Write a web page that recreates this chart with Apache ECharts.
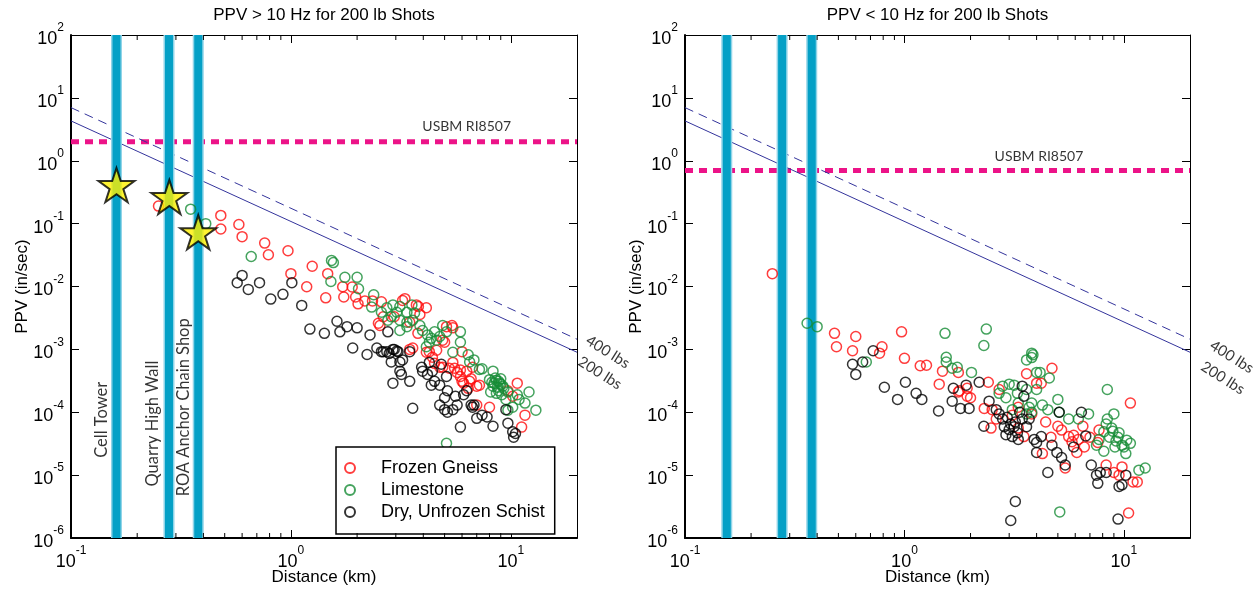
<!DOCTYPE html>
<html><head><meta charset="utf-8">
<script src="https://cdn.jsdelivr.net/npm/echarts@6/dist/echarts.min.js"></script>
<style>html,body{margin:0;padding:0;background:#fff}#c{width:1260px;height:590px}</style>
</head><body><div id="c"></div>
<script>
// ---------- data ----------
const X_MIN = 0.1, X_MAX = 20, Y_MIN = 1e-6, Y_MAX = 100;
const panelTitles = ['PPV > 10 Hz for 200 lb Shots', 'PPV < 10 Hz for 200 lb Shots'];
const xName = 'Distance (km)';
const yName = 'PPV (in/sec)';
const seriesNames = ['Frozen Gneiss', 'Limestone', 'Dry, Unfrozen Schist'];
const minorTickValues = [0.2,0.3,0.4,0.5,0.6,0.7,0.8,0.9,2,3,4,5,6,7,8,9];

const gneissLeft = [[0.25,0.19],[0.48,0.135],[0.48,0.082],[0.58,0.097],[0.6,0.062],[0.76,0.049],[0.79,0.032],[0.97,0.037],[1.25,0.021],[1.0,0.016],[1.18,0.0099],[1.44,0.0066],[1.47,0.016],[1.72,0.0099],[1.9,0.0098],[1.74,0.0068],[1.97,0.0068],[2.17,0.0059],[2.35,0.0059],[2.58,0.0057],[2.02,0.0053],[2.54,0.0024],[2.63,0.0033],[2.5,0.0026],[2.95,0.0033],[3.22,0.006],[3.3,0.0064],[3.8,0.0048],[3.72,0.0051],[3.86,0.0036],[4.13,0.0046],[3.47,0.0027],[3.78,0.0018],[3.58,0.00105],[4.13,0.0009],[5.1,0.0023],[5.45,0.0022],[4.9,0.0014],[4.6,0.00097],[5.0,0.0013],[5.4,0.0024],[3.47,0.001],[4.26,0.00092],[4.4,0.00075],[4.75,0.00052],[5.25,0.0005],[5.7,0.00043],[5.45,0.00062],[6.0,0.00092],[5.9,0.00037],[6.3,0.00045],[6.5,0.00031],[6.1,0.00029],[6.7,0.00052],[7.0,0.00026],[7.0,0.00013],[4.9,0.00052],[5.55,0.0005],[5.9,0.00047],[6.0,0.00031],[6.6,0.00034],[7.2,0.00027],[6.4,0.00024],[10.7,0.00029],[9.7,0.00022],[10.2,0.00018],[8.0,0.00012],[11.6,0.00009],[11.2,0.000058],[4.5,0.0006]];
const limestoneLeft = [[0.35,0.17],[0.41,0.1],[0.66,0.03],[1.53,0.026],[1.56,0.024],[1.52,0.012],[1.76,0.014],[2.0,0.014],[2.03,0.0092],[2.38,0.0074],[2.33,0.0047],[2.58,0.0039],[2.73,0.0046],[2.91,0.0051],[3.03,0.0039],[3.13,0.0048],[2.86,0.0033],[2.76,0.0029],[3.13,0.0029],[3.37,0.0039],[3.55,0.0051],[3.65,0.0038],[3.37,0.0027],[3.13,0.002],[3.37,0.0023],[3.58,0.0029],[3.86,0.0024],[3.97,0.002],[4.18,0.0017],[4.35,0.0015],[4.5,0.0019],[4.6,0.0014],[4.26,0.0013],[4.13,0.0011],[4.75,0.0016],[4.9,0.0024],[5.1,0.0019],[5.9,0.0019],[5.9,0.0013],[5.45,0.0009],[6.4,0.00082],[6.8,0.00068],[6.5,0.00063],[7.4,0.00049],[8.3,0.00045],[8.0,0.00033],[8.5,0.00035],[8.9,0.00029],[8.3,0.00026],[8.7,0.00025],[9.2,0.00026],[8.6,0.0002],[9.1,0.00019],[9.7,0.00021],[8.1,0.00021],[9.5,0.00016],[12.1,0.00021],[10.7,0.00019],[13.0,0.000108],[11.6,0.00014],[10.2,0.00012],[9.7,0.000108],[10.9,0.00016],[5.1,0.000032],[7.2,0.00048],[8.8,0.00031],[9.0,0.00028],[8.4,0.00029],[8.2,0.0003],[8.6,0.00032],[9.3,0.00024],[8.8,0.00022],[9.0,0.00034]];
const schistLeft = [[0.6,0.015],[0.57,0.0115],[0.64,0.009],[0.72,0.0115],[0.81,0.0063],[0.92,0.0075],[1.01,0.0115],[1.12,0.005],[1.22,0.0021],[1.62,0.0028],[1.42,0.0018],[1.67,0.0019],[1.8,0.0023],[2.0,0.0022],[2.29,0.0017],[1.91,0.00105],[2.46,0.00105],[2.76,0.0019],[2.22,0.00083],[2.63,0.00092],[2.91,0.001],[3.07,0.00092],[3.47,0.00092],[2.58,0.00092],[2.73,0.00092],[2.8,0.00086],[2.95,0.001],[3.03,0.00094],[2.86,0.00063],[3.13,0.00063],[3.22,0.00068],[3.13,0.00045],[3.18,0.0004],[3.47,0.00031],[2.91,0.00029],[3.93,0.00052],[3.97,0.00045],[4.26,0.00062],[4.18,0.0004],[4.4,0.00045],[4.5,0.00031],[4.35,0.00027],[4.75,0.00027],[4.83,0.00058],[5.1,0.00037],[5.15,0.00022],[5.0,0.00017],[5.6,0.00018],[4.75,0.00013],[5.0,0.00011],[5.15,0.0001],[5.45,0.00011],[5.7,0.00013],[3.58,0.000116],[5.9,0.000058],[6.1,0.00019],[6.3,0.00022],[7.0,0.00008],[6.6,0.00013],[6.8,0.00013],[7.4,0.00009],[7.8,0.000084],[8.3,0.00006],[9.7,0.000067],[10.2,0.000049],[10.5,0.000046],[10.3,0.00004],[9.5,0.00011],[6.7,0.00012]];

const gneissRight = [[0.25,0.016],[0.48,0.0018],[0.49,0.0011],[0.6,0.0016],[0.58,0.00095],[0.79,0.0011],[0.77,0.00087],[0.97,0.0019],[1.0,0.00072],[1.18,0.00055],[1.26,0.00056],[1.49,0.00045],[1.44,0.00028],[1.76,0.00043],[2.41,0.0003],[1.93,0.00018],[2.0,0.00017],[1.76,0.00021],[1.93,0.00024],[2.31,0.000115],[2.51,0.00011],[2.7,0.00023],[2.62,0.000078],[2.48,0.000056],[3.3,0.000056],[3.5,0.000041],[3.6,0.00041],[4.0,0.00029],[4.2,0.00029],[3.8,0.000094],[4.7,0.0005],[10.7,0.00014],[5.6,0.000041],[5.8,0.000034],[6.2,0.000037],[6.6,0.000028],[6.1,0.000023],[5.4,0.000013],[7.7,0.000052],[7.6,0.000033],[8.3,0.0000145],[9.0,0.000011],[9.8,0.0000135],[9.5,0.00001],[11.5,0.0000078],[11,0.0000078],[4.25,0.000022],[5.2,0.000052],[5.9,0.000043],[4.65,0.00004],[10.5,0.0000025],[1.78,0.00022],[3.1,0.00009],[3.3,0.00012],[4.4,0.00007],[5.0,0.00006],[6.5,0.00006],[7.0,0.00004]];
const limestoneRight = [[0.36,0.0026],[0.4,0.0023],[0.67,0.00063],[1.53,0.0018],[1.55,0.00075],[1.55,0.00063],[1.65,0.0005],[1.74,0.00052],[2.36,0.0021],[2.3,0.00115],[2.02,0.00043],[3.0,0.00028],[3.16,0.00027],[2.8,0.00026],[2.7,0.0002],[2.9,0.00017],[3.27,0.0002],[3.6,0.00023],[3.8,0.00074],[3.6,0.00068],[3.8,0.00087],[4.0,0.00043],[3.1,0.00011],[3.3,0.00014],[3.7,0.00012],[3.85,0.00082],[4.15,0.00043],[4.57,0.00035],[4.0,0.00023],[5.0,0.00016],[8.4,0.00023],[9.0,0.000094],[8.4,0.000078],[8.8,0.000056],[9.5,0.000047],[8.6,0.00004],[9.2,0.000035],[9.8,0.00003],[10.3,0.000036],[10.7,0.000032],[10.2,0.000022],[8.1,0.000049],[7.7,0.000037],[7.5,0.00003],[8.1,0.000024],[11.7,0.000012],[12.5,0.000013],[6.9,0.000094],[6.2,0.000078],[5.6,0.000078],[5.07,0.0001],[4.5,0.00011],[4.25,0.00013],[3.8,0.00014],[3.8,0.0001],[3.6,0.000094],[5.1,0.0000026],[8.9,0.00005],[9.4,0.00004],[8.3,0.000065],[9.1,0.000028],[10.0,0.000028]];
const schistRight = [[0.58,0.00058],[0.6,0.0004],[0.645,0.00063],[0.72,0.00095],[0.81,0.00025],[0.93,0.00016],[1.01,0.0003],[1.13,0.0002],[1.2,0.00016],[1.67,0.00024],[1.65,0.00015],[1.43,0.000105],[1.8,0.000115],[1.97,0.000115],[1.91,0.00027],[2.19,0.0003],[2.3,0.00006],[2.43,0.00015],[2.62,0.00011],[2.7,0.000094],[2.8,0.000078],[2.94,0.000083],[2.85,0.000059],[3.0,0.000053],[3.16,0.000059],[3.27,0.000047],[2.9,0.000044],[3.1,0.000041],[3.3,0.000037],[3.44,0.000078],[3.5,0.00018],[3.44,0.00026],[3.6,0.000059],[3.9,0.000037],[4.0,0.000023],[4.2,0.000041],[4.0,0.000033],[4.7,0.00003],[4.95,0.000023],[5.2,0.000019],[5.4,0.0000145],[4.5,0.000011],[5.07,0.0001],[6.4,0.0001],[6.7,0.000042],[5.9,0.000028],[7.1,0.0000145],[7.5,0.00001],[7.6,0.0000074],[7.8,0.000011],[8.3,0.000011],[9.8,0.000007],[9.5,0.0000066],[10.2,0.00001],[3.7,0.000078],[3.2,0.0000038],[3.05,0.0000019],[9.4,0.000002],[3.2,0.00007],[3.35,0.0001],[3.05,0.000065]];

const line200lbs = [[0.1,4.3],[20,0.0009]];
const line400lbs = [[0.1,7.0],[20,0.00145]];
const usbmLimit = [2.0, 0.7];
const siteDistLeft = [0.161, 0.279, 0.379];
const siteDistRight = [0.155, 0.277, 0.378];
const siteNames = ['Cell Tower', 'Quarry High Wall', 'ROA Anchor Chain Shop'];
const starsLeft = [[0.161,0.41],[0.28,0.265],[0.379,0.073]];

// annotation anchors (data units)
const siteLabelAnchors = [[0.138,7.6e-5],[0.236,6.6e-5],[0.326,1.2e-4]];
const usbmAnchors = [[6.3,3.45],[4.1,1.15]];
const lbsAnchors = [
  {l400:[27.6,9.1e-4], l200:[25.4,4.2e-4]},
  {l400:[31,7.6e-4], l200:[28.2,3.5e-4]}
];

// ---------- styling ----------
const FONT = '"Liberation Sans", Arial, Helvetica, sans-serif';
const ANN = 'Lato, "Open Sans", sans-serif';
const RED = '#ff0d0d', GREEN = '#178c36', BLACK = '#000000';
const PINK = '#ec1388', BLUE = '#34349c', CYAN = '#04a0c6', CYAN_EDGE = '#8fd4e8';
const STAR = 'path://M50 0 L61.23 34.55 L97.55 34.55 L68.16 55.9 L79.39 90.45 L50 69.1 L20.61 90.45 L31.84 55.9 L2.45 34.55 L38.77 34.55 Z';

const RICH = {
  b: {fontFamily: FONT, fontSize: 18, color: '#000', lineHeight: 26, verticalAlign: 'bottom'},
  s: {fontFamily: FONT, fontSize: 12, color: '#000', lineHeight: 12, verticalAlign: 'top'}
};
function powLabel(v) {
  const e = Math.round(Math.log10(v));
  if (Math.abs(v / Math.pow(10, e) - 1) > 1e-6) return '';
  return '{b|10}{s|' + e + '}';
}

function xAxisCfg(grid, pos, name) {
  const bottom = pos === 'bottom';
  return {
    type: 'log', logBase: 10, gridIndex: grid, position: pos, min: X_MIN, max: X_MAX,
    name: name, nameLocation: 'middle', nameGap: bottom ? 31 : 11, nameMoveOverlap: false,
    nameTextStyle: {fontFamily: FONT, fontSize: 17, color: '#000'},
    axisLine: {show: true, onZero: false, lineStyle: {color: '#000', width: bottom ? 2 : 1}},
    axisTick: {show: true, inside: true, length: 8, lineStyle: {color: '#000', width: 1}},
    axisLabel: {show: bottom, margin: 7, formatter: powLabel, rich: RICH, showMinLabel: true, showMaxLabel: true, hideOverlap: false},
    splitLine: {show: false}, minorTick: {show: false}, axisPointer: {show: false}
  };
}
function yAxisCfg(grid, pos, name) {
  const left = pos === 'left';
  return {
    type: 'log', logBase: 10, gridIndex: grid, position: pos, min: Y_MIN, max: Y_MAX,
    name: name, nameLocation: 'middle', nameGap: 40, nameMoveOverlap: false,
    nameTextStyle: {fontFamily: FONT, fontSize: 17, color: '#000'},
    axisLine: {show: true, onZero: false, lineStyle: {color: '#000', width: left ? 2 : 1}},
    axisTick: {show: true, inside: true, length: 8, lineStyle: {color: '#000', width: 1}},
    axisLabel: {show: left, margin: 7, formatter: powLabel, rich: RICH, showMinLabel: true, showMaxLabel: true, hideOverlap: false},
    splitLine: {show: false}, minorTick: {show: false}
  };
}

function annSeries(xi, yi, items) {
  return {
    type: 'scatter', xAxisIndex: xi, yAxisIndex: yi, clip: false, silent: true, z: 6,
    symbolSize: 1, itemStyle: {color: 'rgba(0,0,0,0)'},
    data: items.map(it => ({
      value: it.pos,
      label: {show: true, position: 'inside', formatter: it.text, rotate: it.rotate || 0,
        fontFamily: ANN, fontSize: it.size || 15, color: '#000'}
    }))
  };
}

const series = [];
const scatterSets = [[gneissLeft, limestoneLeft, schistLeft], [gneissRight, limestoneRight, schistRight]];
const siteSets = [siteDistLeft, siteDistRight];
const colors = [RED, GREEN, BLACK];

for (let p = 0; p < 2; p++) {
  const xi = p * 2, yi = p * 2;
  series.push({type: 'line', xAxisIndex: xi, yAxisIndex: yi, symbol: 'none', silent: true, z: 1,
    data: [[X_MIN, usbmLimit[p]], [X_MAX, usbmLimit[p]]],
    lineStyle: {color: PINK, width: 5, type: [8, 6]}});
  series.push({type: 'line', xAxisIndex: xi, yAxisIndex: yi, symbol: 'none', silent: true, z: 1,
    data: line200lbs, lineStyle: {color: BLUE, width: 1}});
  series.push({type: 'line', xAxisIndex: xi, yAxisIndex: yi, symbol: 'none', silent: true, z: 1,
    data: line400lbs, lineStyle: {color: BLUE, width: 1, type: [9, 6]}});
  series.push({type: 'custom', xAxisIndex: xi, yAxisIndex: yi, silent: true, z: 2,
    data: siteSets[p].map(d => [d, Y_MIN]),
    renderItem: function (params, api) {
      const top = api.coord([api.value(0), Y_MAX]);
      const bot = api.coord([api.value(0), Y_MIN]);
      return {type: 'group', children: [
        {type: 'rect', shape: {x: top[0] - 5.5, y: top[1], width: 11, height: bot[1] - top[1]}, style: {fill: CYAN_EDGE}},
        {type: 'rect', shape: {x: top[0] - 4, y: top[1], width: 8, height: bot[1] - top[1]}, style: {fill: CYAN}}
      ]};
    }});
  for (let k = 0; k < 3; k++) {
    series.push({type: 'scatter', name: seriesNames[k], xAxisIndex: xi, yAxisIndex: yi, z: 3,
      symbol: 'circle', symbolSize: 10,
      itemStyle: {color: 'rgba(255,255,255,0)', borderColor: colors[k], borderWidth: 1.5},
      emphasis: {disabled: true},
      data: scatterSets[p][k]});
  }
  series.push({type: 'custom', xAxisIndex: xi, yAxisIndex: yi, silent: true, z: 5,
    data: minorTickValues.map(v => [v, Y_MIN]),
    renderItem: function (params, api) {
      const b = api.coord([api.value(0), Y_MIN]);
      const t = api.coord([api.value(0), Y_MAX]);
      return {type: 'group', children: [
        {type: 'line', shape: {x1: b[0], y1: b[1], x2: b[0], y2: b[1] - 5}, style: {stroke: '#000', lineWidth: 1}},
        {type: 'line', shape: {x1: t[0], y1: t[1], x2: t[0], y2: t[1] + 5}, style: {stroke: '#000', lineWidth: 1}}
      ]};
    }});
  const items = [
    {pos: usbmAnchors[p], text: 'USBM RI8507', size: 14},
    {pos: lbsAnchors[p].l400, text: '400 lbs', rotate: -32, size: 15},
    {pos: lbsAnchors[p].l200, text: '200 lbs', rotate: -32, size: 15}
  ];
  if (p === 0) {
    for (let i = 0; i < 3; i++) items.push({pos: siteLabelAnchors[i], text: siteNames[i], rotate: 90, size: 16.5});
  }
  series.push(annSeries(xi, yi, items));
}
series.push({type: 'scatter', xAxisIndex: 0, yAxisIndex: 0, z: 7, silent: true,
  symbol: STAR, symbolSize: 36, symbolKeepAspect: true,
  itemStyle: {color: '#fff000', borderColor: '#000', borderWidth: 2},
  data: starsLeft});

const option = {
  animation: false,
  backgroundColor: '#fff',
  grid: [
    {left: 71, top: 35, width: 506, height: 503, outerBoundsMode: 'none', containLabel: false},
    {left: 685, top: 35, width: 505, height: 503, outerBoundsMode: 'none', containLabel: false}
  ],
  xAxis: [
    xAxisCfg(0, 'bottom', xName), xAxisCfg(0, 'top', panelTitles[0]),
    xAxisCfg(1, 'bottom', xName), xAxisCfg(1, 'top', panelTitles[1])
  ],
  yAxis: [
    yAxisCfg(0, 'left', yName), yAxisCfg(0, 'right', ''),
    yAxisCfg(1, 'left', yName), yAxisCfg(1, 'right', '')
  ],
  legend: {
    show: true, orient: 'vertical', left: 336, top: 447,
    data: seriesNames, selectedMode: false,
    backgroundColor: '#fff', borderColor: '#000', borderWidth: 1.5,
    padding: [12, 10, 13, 8], itemGap: 4, itemWidth: 24, itemHeight: 10,
    textStyle: {fontFamily: FONT, fontSize: 18, color: '#000', lineHeight: 18, padding: [0, 0, 0, 14]}
  },
  series: series
};
const chart = echarts.init(document.getElementById('c'), null, {renderer: 'canvas'});
chart.setOption(option);
</script>
</body></html>
